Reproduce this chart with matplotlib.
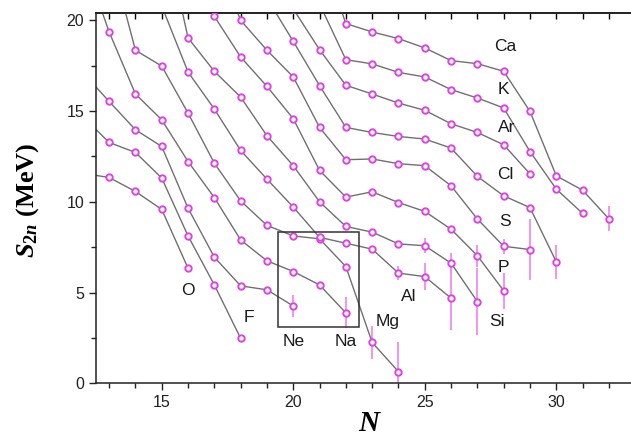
import matplotlib
matplotlib.use("Agg")
import matplotlib.pyplot as plt
from matplotlib.ticker import MultipleLocator
from matplotlib.patches import Rectangle

plt.rcParams['font.family'] = ['Liberation Sans', 'DejaVu Sans']
plt.rcParams['mathtext.fontset'] = 'custom'
plt.rcParams['mathtext.it'] = 'Liberation Serif:italic:bold'
plt.rcParams['mathtext.rm'] = 'Liberation Serif:bold'
plt.rcParams['mathtext.bf'] = 'Liberation Serif:bold'

# ---- data: two-neutron separation energies per isotopic chain ----
O_N = list(range(12, 17))
O_S = [11.57, 11.34, 10.57, 9.58, 6.34]
O_E = [0, 0, 0, 0, 0]

F_N = list(range(12, 19))
F_S = [14.7, 13.27, 12.72, 11.31, 8.12, 5.42, 2.48]
F_E = [0, 0, 0, 0, 0, 0, 0]

Ne_N = list(range(12, 21))
Ne_S = [17.12, 15.53, 13.97, 13.05, 9.65, 6.95, 5.37, 5.15, 4.26]
Ne_E = [0, 0, 0, 0, 0, 0, 0, 0, 0.6]

Na_N = list(range(12, 23))
Na_S = [23.49, 19.36, 15.94, 14.52, 12.22, 10.23, 7.9, 6.75, 6.16, 5.42, 3.88]
Na_E = [0, 0, 0, 0, 0, 0, 0, 0, 0, 0, 0.85]

Mg_N = list(range(13, 25))
Mg_S = [23.86, 18.35, 17.48, 14.89, 12.13, 10.05, 8.7, 8.12, 7.96, 6.43, 2.25, 0.64]
Mg_E = [0, 0, 0, 0, 0, 0, 0, 0, 0, 0, 0.9, 1.65]

Al_N = list(range(15, 27))
Al_S = [20.79, 17.15, 15.11, 12.83, 11.25, 9.71, 8.04, 7.72, 7.39, 6.07, 5.88, 4.69]
Al_E = [0, 0, 0, 0, 0, 0, 0, 0, 0, 0.4, 0.75, 1.75]

Si_N = list(range(15, 28))
Si_S = [25.65, 19.03, 17.19, 15.77, 13.64, 11.99, 10.0, 8.64, 8.33, 7.68, 7.58, 6.62, 4.5]
Si_E = [0, 0, 0, 0, 0, 0, 0, 0, 0, 0, 0.4, 0.55, 1.85]

P_N = list(range(16, 29))
P_S = [23.63, 20.22, 17.98, 16.36, 14.58, 11.73, 10.26, 10.55, 9.96, 9.47, 8.49, 7.03, 5.1]
P_E = [0, 0, 0, 0, 0, 0, 0, 0, 0, 0, 0, 0.6, 1.0]

S_N = list(range(17, 30))
S_S = [23.68, 20.0, 18.35, 16.88, 14.1, 12.32, 12.36, 12.1, 11.99, 10.88, 9.05, 7.55, 7.37]
S_E = [0, 0, 0, 0, 0, 0, 0, 0, 0, 0, 0, 0.4, 1.7]

Cl_N = list(range(19, 31))
Cl_S = [21.22, 18.84, 16.4, 14.1, 13.82, 13.6, 13.46, 12.96, 11.4, 10.33, 9.68, 6.69]
Cl_E = [0, 0, 0, 0, 0, 0, 0, 0, 0, 0, 0, 0.95]

Ar_N = list(range(20, 30))
Ar_S = [20.63, 18.38, 16.42, 15.94, 15.44, 15.04, 14.3, 13.82, 13.14, 11.54]
Ar_E = [0, 0, 0, 0, 0, 0, 0, 0, 0, 0]

K_N = list(range(21, 32))
K_S = [20.9, 17.83, 17.6, 17.13, 16.88, 16.18, 15.72, 15.17, 12.77, 10.7, 9.36]
K_E = [0, 0, 0, 0, 0, 0, 0, 0, 0, 0, 0]

Ca_N = list(range(21, 33))
Ca_S = [24.0, 19.82, 19.36, 18.99, 18.48, 17.78, 17.61, 17.19, 14.98, 11.43, 10.64, 9.06]
Ca_E = [0, 0, 0, 0, 0, 0, 0, 0, 0, 0, 0, 0.69]

chains = [(O_N, O_S, O_E), (F_N, F_S, F_E), (Ne_N, Ne_S, Ne_E), (Na_N, Na_S, Na_E),
          (Mg_N, Mg_S, Mg_E), (Al_N, Al_S, Al_E), (Si_N, Si_S, Si_E), (P_N, P_S, P_E),
          (S_N, S_S, S_E), (Cl_N, Cl_S, Cl_E), (Ar_N, Ar_S, Ar_E), (K_N, K_S, K_E),
          (Ca_N, Ca_S, Ca_E)]

label_names = ["Ca", "K", "Ar", "Cl", "S", "P", "Si", "Al", "Mg", "Na", "Ne", "F", "O"]
label_x = [28.05, 28.0, 28.1, 28.05, 28.05, 27.98, 27.75, 24.4, 23.6, 22.0, 20.03, 18.3, 16.0]
label_y = [18.55, 16.18, 14.08, 11.49, 8.94, 6.36, 3.43, 4.76, 3.38, 2.28, 2.28, 3.6, 5.09]

box_x = [19.43, 22.51]
box_y = [3.12, 8.31]

line_color = '#707070'
mark_color = '#e040e8'
err_color = '#f08cf0'

fig = plt.figure(figsize=(6.31, 4.42), dpi=100)
ax = fig.add_axes([0.1521, 0.1328, 0.8479, 0.8385])

for Ns, Ss, Es in chains:
    errN = [n for n, e in zip(Ns, Es) if e > 0]
    errS = [s for s, e in zip(Ss, Es) if e > 0]
    errE = [e for e in Es if e > 0]
    if errN:
        ax.errorbar(errN, errS, yerr=errE, fmt='none', ecolor=err_color,
                    elinewidth=1.3, capsize=0, zorder=1)
    ax.plot(Ns, Ss, '-', color=line_color, lw=1.0, zorder=2)
    ax.plot(Ns, Ss, 'o', ms=4.6, mfc='white', mec=mark_color, mew=1.4,
            zorder=3, linestyle='none')

for name, x, y in zip(label_names, label_x, label_y):
    ax.text(x, y, name, fontsize=12.5, ha='center', va='center', color='#1a1a1a')

ax.add_patch(Rectangle((box_x[0], box_y[0]), box_x[1] - box_x[0], box_y[1] - box_y[0],
                       fill=False, ec='#333333', lw=1.1, zorder=4))

ax.set_xlim(12.5, 32.84)
ax.set_ylim(0, 20.42)
ax.spines['right'].set_visible(False)
for sp in ['left', 'bottom', 'top']:
    ax.spines[sp].set_linewidth(1.1)
    ax.spines[sp].set_color('#222222')

ax.xaxis.set_major_locator(MultipleLocator(5))
ax.xaxis.set_minor_locator(MultipleLocator(1))
ax.yaxis.set_major_locator(MultipleLocator(5))
ax.yaxis.set_minor_locator(MultipleLocator(2.5))
ax.tick_params(which='both', direction='out', top=False, right=False,
               labelsize=11.5, colors='#222222')
ax.tick_params(which='major', length=5, width=1.0)
ax.tick_params(which='minor', length=3.5, width=1.0)

secax = ax.secondary_xaxis('top')
secax.xaxis.set_major_locator(MultipleLocator(1))
secax.tick_params(direction='in', length=4, width=1.0, labeltop=False)
secax.spines['top'].set_linewidth(1.1)

ax.text(-0.127, 0.495, r'$S_{2n}$ (MeV)', transform=ax.transAxes, rotation=90,
        ha='center', va='center', fontsize=19, fontfamily='Liberation Serif',
        fontweight='bold')
fig.text(0.586, 0.012, r'$N$', ha='center', va='bottom', fontsize=21)

fig.savefig('out.png', dpi=100)
